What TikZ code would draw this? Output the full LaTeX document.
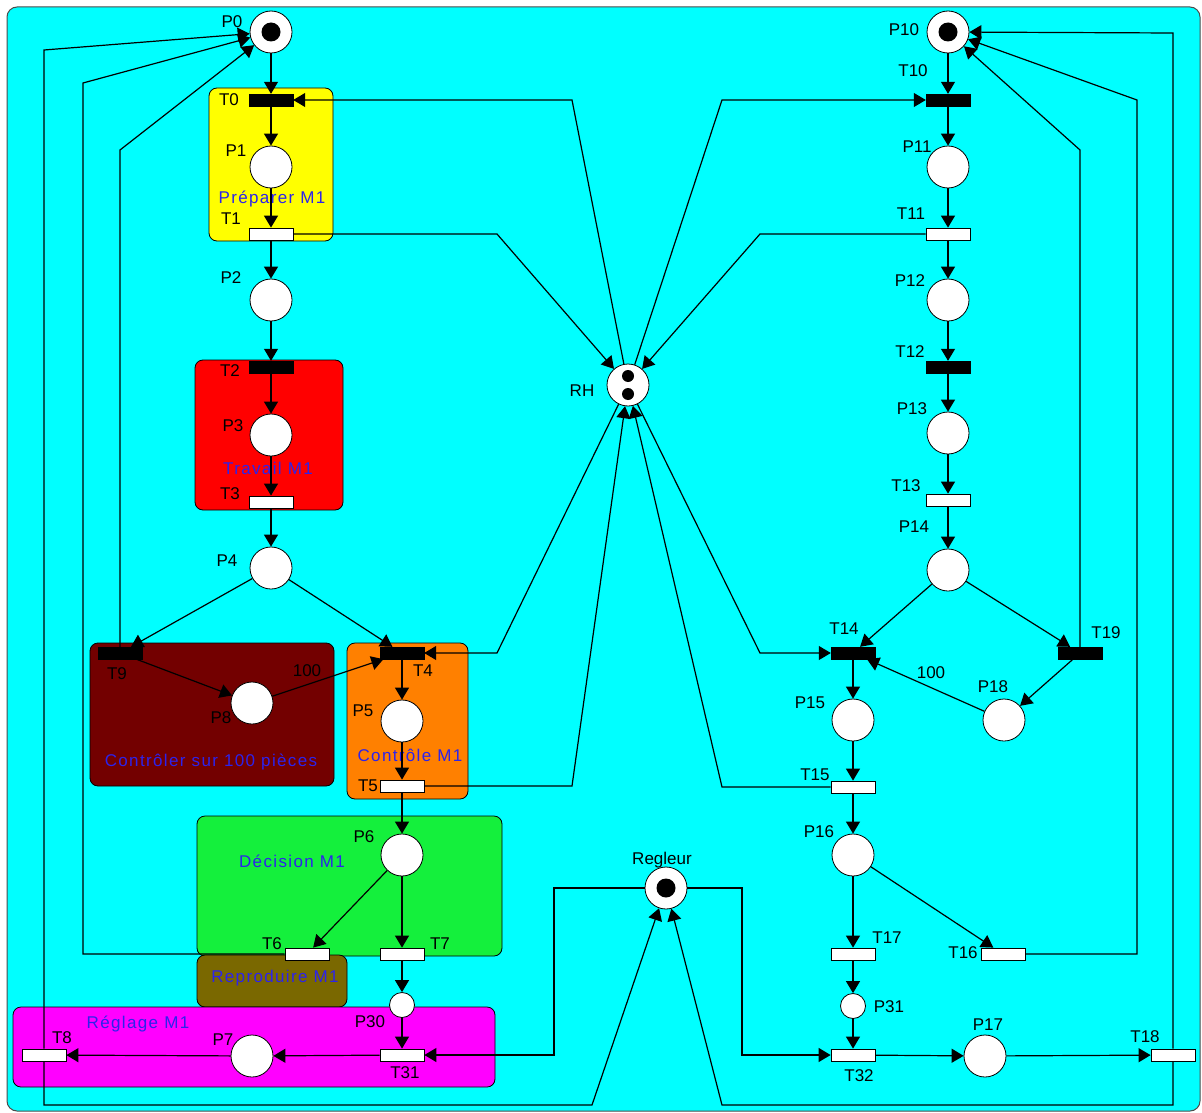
\documentclass[tikz,border=0pt]{standalone}
\usepackage{fontspec}
\setmainfont{Liberation Sans}
\newfontfamily\boxfont{Liberation Sans}[LetterSpace=8]
\usetikzlibrary{arrows.meta}
\definecolor{bgcyan}{RGB}{0,255,255}
\definecolor{ylw}{RGB}{255,255,0}
\definecolor{rd}{RGB}{255,0,0}
\definecolor{dkrd}{RGB}{115,0,0}
\definecolor{orng}{RGB}{255,128,0}
\definecolor{grn}{RGB}{20,240,60}
\definecolor{olv}{RGB}{122,104,0}
\definecolor{mgnt}{RGB}{255,0,255}
\definecolor{boxblue}{RGB}{45,35,235}
\begin{document}
\begin{tikzpicture}[x=1pt,y=-1pt,
 pplace/.style={circle,draw=black,fill=white,line width=0.8pt,minimum size=42pt,inner sep=0pt},
 splace/.style={pplace,minimum size=25pt},
 tok/.style={circle,fill=black,inner sep=0pt,minimum size=19pt},
 stok/.style={circle,fill=black,inner sep=0pt,minimum size=12pt},
 imm/.style={rectangle,draw=black,fill=black,minimum width=44pt,minimum height=12pt,inner sep=0pt},
 timed/.style={rectangle,draw=black,fill=white,line width=0.8pt,minimum width=44pt,minimum height=12pt,inner sep=0pt},
 parc/.style={draw=black,line width=1.2pt,-{Triangle[length=12pt,width=14pt]}},
 lab/.style={font=\fontsize{17}{17}\selectfont,text=black,inner sep=0pt},
 boxlab/.style={font=\boxfont\fontsize{17}{17}\selectfont,text=boxblue,inner sep=0pt},
 grp/.style={draw=black,line width=0.8pt,rounded corners=8pt},
]
\useasboundingbox (0,0) rectangle (1202,1113);
\fill[white] (0,0) rectangle (1202,1113);
\draw[fill=bgcyan,draw=black!70,line width=1pt,rounded corners=10pt] (7,7) rectangle (1200,1111);

% groups
\draw[grp,fill=ylw] (209,88) rectangle (333,241);
\draw[grp,fill=rd] (195,360) rectangle (343,510);
\draw[grp,fill=dkrd] (90,643) rectangle (334,786);
\draw[grp,fill=orng] (347,643) rectangle (468,799);
\draw[grp,fill=grn] (197,816) rectangle (502,956);
\draw[grp,fill=olv] (197,955) rectangle (347,1007);
\draw[grp,fill=mgnt] (13,1007) rectangle (495,1087);

\node[boxlab] (gPrep) at (272,199) {Préparer M1};
\node[boxlab] (gTrav) at (268,468) {Travail M1};
\node[boxlab] (gCt100) at (211,762) {Contrôler sur 100 pièces};
\node[boxlab] (gCtl) at (410,755) {Contrôle M1};
\node[boxlab] (gDec) at (292,861) {Décision M1};
\node[boxlab] (gRep) at (275,978) {Reproduire M1};
\node[boxlab] (gReg) at (138,1024) {Réglage M1};

% labels
\node[lab] (lP0) at (232,22) {P0};
\node[lab] (lT0) at (229,100) {T0};
\node[lab] (lP1) at (236,151) {P1};
\node[lab] (lT1) at (231,219) {T1};
\node[lab] (lP2) at (231,278) {P2};
\node[lab] (lT2) at (230,371) {T2};
\node[lab] (lP3) at (233,426) {P3};
\node[lab] (lT3) at (230,494) {T3};
\node[lab] (lP4) at (227,561) {P4};
\node[lab] (lT9) at (117,674) {T9};
\node[lab] (l100a) at (307,671) {100};
\node[lab] (lP8) at (221,718) {P8};
\node[lab] (lT4) at (423,671) {T4};
\node[lab] (lP5) at (363,711) {P5};
\node[lab] (lT5) at (368,786) {T5};
\node[lab] (lP6) at (364,837) {P6};
\node[lab] (lT6) at (272,944) {T6};
\node[lab] (lT7) at (440,944) {T7};
\node[lab] (lP30) at (370,1022) {P30};
\node[lab] (lT8) at (62,1038) {T8};
\node[lab] (lP7) at (223,1040) {P7};
\node[lab] (lT31) at (405,1073) {T31};
\node[lab] (lRH) at (582,391) {RH};
\node[lab] (lReg) at (662,860) {Regleur};
\node[lab] (lP10) at (904,30) {P10};
\node[lab] (lT10) at (913,71) {T10};
\node[lab] (lP11) at (917,147) {P11};
\node[lab] (lT11) at (911,214) {T11};
\node[lab] (lP12) at (910,281) {P12};
\node[lab] (lT12) at (910,352) {T12};
\node[lab] (lP13) at (912,409) {P13};
\node[lab] (lT13) at (906,486) {T13};
\node[lab] (lP14) at (914,527) {P14};
\node[lab] (lT14) at (844,629) {T14};
\node[lab] (lT19) at (1106,633) {T19};
\node[lab] (l100b) at (931,673) {100};
\node[lab] (lP15) at (810,703) {P15};
\node[lab] (lP18) at (993,687) {P18};
\node[lab] (lT15) at (815,775) {T15};
\node[lab] (lP16) at (819,832) {P16};
\node[lab] (lT17) at (887,938) {T17};
\node[lab] (lT16) at (963,953) {T16};
\node[lab] (lP31) at (889,1007) {P31};
\node[lab] (lP17) at (988,1025) {P17};
\node[lab] (lT18) at (1145,1037) {T18};
\node[lab] (lT32) at (859,1076) {T32};

% places
\node[pplace] (P0) at (271,32) {};
\node[tok] (P0t) at (P0) {};
\node[pplace] (P1) at (271,167) {};
\node[pplace] (P2) at (271,300) {};
\node[pplace] (P3) at (271,435) {};
\node[pplace] (P4) at (271,568) {};
\node[pplace] (P8) at (252,703) {};
\node[pplace] (P5) at (402,721) {};
\node[pplace] (P6) at (402,855) {};
\node[splace] (P30) at (402,1005) {};
\node[pplace] (P7) at (252,1056) {};
\node[pplace] (RH) at (628,385) {};
\node[stok] (RHa) at (628,376) {};
\node[stok] (RHb) at (628,394) {};
\node[pplace] (Reg) at (666,888) {};
\node[tok] (Regt) at (Reg) {};
\node[pplace] (P10) at (948,32) {};
\node[tok] (P10t) at (P10) {};
\node[pplace] (P11) at (948,167) {};
\node[pplace] (P12) at (948,300) {};
\node[pplace] (P13) at (948,433) {};
\node[pplace] (P14) at (948,570) {};
\node[pplace] (P15) at (853,720) {};
\node[pplace] (P18) at (1004,720) {};
\node[pplace] (P16) at (853,855) {};
\node[splace] (P31) at (853,1006) {};
\node[pplace] (P17) at (985,1056) {};

% transitions
\node[imm] (T0) at (271,100) {};
\node[timed] (T1) at (271,234) {};
\node[imm] (T2) at (271,367) {};
\node[timed] (T3) at (271,502) {};
\node[imm] (T9) at (120,653) {};
\node[imm] (T4) at (402,653) {};
\node[timed] (T5) at (402,786) {};
\node[timed] (T6) at (307,954) {};
\node[timed] (T7) at (402,954) {};
\node[timed] (T31) at (402,1055) {};
\node[timed] (T8) at (44,1055) {};
\node[imm] (T10) at (948,100) {};
\node[timed] (T11) at (948,234) {};
\node[imm] (T12) at (948,367) {};
\node[timed] (T13) at (948,500) {};
\node[imm] (T14) at (853,653) {};
\node[imm] (T19) at (1080,653) {};
\node[timed] (T15) at (853,787) {};
\node[timed] (T17) at (853,954) {};
\node[timed] (T16) at (1003,954) {};
\node[timed] (T32) at (853,1055) {};
\node[timed] (T18) at (1173,1055) {};

% left chain
\draw[parc] (P0) -- (T0);
\draw[parc] (T0) -- (P1);
\draw[parc] (P1) -- (T1);
\draw[parc] (T1) -- (P2);
\draw[parc] (P2) -- (T2);
\draw[parc] (T2) -- (P3);
\draw[parc] (P3) -- (T3);
\draw[parc] (T3) -- (P4);
\draw[parc] (P4) -- (T9);
\draw[parc] (P4) -- (T4);
\draw[parc] (T9) -- (P8);
\draw[parc] (P8) -- (T4);
\draw[parc] (T4) -- (P5);
\draw[parc] (P5) -- (T5);
\draw[parc] (T5) -- (P6);
\draw[parc] (P6) -- (T6);
\draw[parc] (P6) -- (T7);
\draw[parc] (T7) -- (P30);
\draw[parc] (P30) -- (T31);
\draw[parc] (T31) -- (P7);
\draw[parc] (P7) -- (T8);

% right chain
\draw[parc] (P10) -- (T10);
\draw[parc] (T10) -- (P11);
\draw[parc] (P11) -- (T11);
\draw[parc] (T11) -- (P12);
\draw[parc] (P12) -- (T12);
\draw[parc] (T12) -- (P13);
\draw[parc] (P13) -- (T13);
\draw[parc] (T13) -- (P14);
\draw[parc] (P14) -- (T14);
\draw[parc] (P14) -- (T19);
\draw[parc] (P18) -- (T14);
\draw[parc] (T19) -- (P18);
\draw[parc] (T14) -- (P15);
\draw[parc] (P15) -- (T15);
\draw[parc] (T15) -- (P16);
\draw[parc] (P16) -- (T17);
\draw[parc] (P16) -- (T16);
\draw[parc] (T17) -- (P31);
\draw[parc] (P31) -- (T32);
\draw[parc] (T32) -- (P17);
\draw[parc] (P17) -- (T18);

% returns to P0
\draw[parc] (T8) -- (44,50) -- (P0);
\draw[parc] (T6) -- (83,954) -- (83,83) -- (P0);
\draw[parc] (T9) -- (120,150) -- (P0);

% returns to P10
\draw[parc] (T18) -- (1173,33) -- (P10);
\draw[parc] (T16) -- (1137,954) -- (1137,100) -- (P10);
\draw[parc] (T19) -- (1080,150) -- (P10);

% resource RH
\draw[parc] (T1) -- (497,234) -- (RH);
\draw[parc] (RH) -- (572,100) -- (T0);
\draw[parc] (RH) -- (722,100) -- (T10);
\draw[parc] (T11) -- (760,234) -- (RH);
\draw[parc] (RH) -- (497,653) -- (T4);
\draw[parc] (T5) -- (572,786) -- (RH);
\draw[parc] (T15) -- (722,787) -- (RH);
\draw[parc] (RH) -- (760,653) -- (T14);

% Regleur
\draw[parc] (Reg) -- (554,888) -- (554,1055) -- (T31);
\draw[parc] (Reg) -- (742,888) -- (742,1055) -- (T32);
\draw[parc] (T8) -- (44,1105) -- (592,1105) -- (Reg);
\draw[parc] (T18) -- (1173,1105) -- (722,1105) -- (Reg);
\end{tikzpicture}
\end{document}
